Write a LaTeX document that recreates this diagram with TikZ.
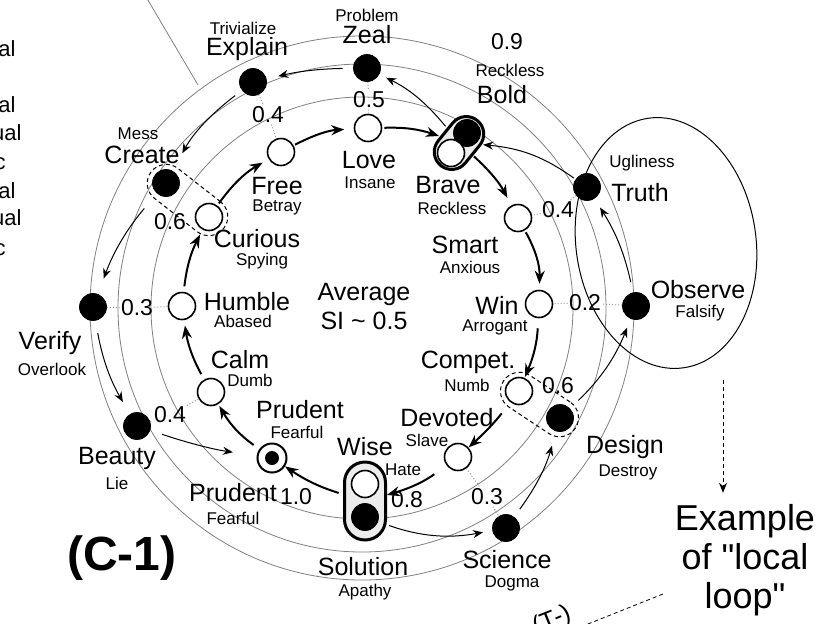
\documentclass[tikz,border=0pt]{standalone}
\usepackage{fontspec}
\setmainfont{Liberation Sans}
\usetikzlibrary{arrows.meta,shapes.geometric}

\begin{document}
\begin{tikzpicture}[x=0.5pt, y=-0.5pt, >={Stealth[length=5pt, width=4pt]},
    every node/.style={inner sep=0.5pt},
    big/.style={font=\fontsize{12.5}{14.5}\selectfont},
    sml/.style={font=\fontsize{8.5}{10}\selectfont},
    num/.style={font=\fontsize{11.5}{13}\selectfont},
    wdot/.style={circle, draw, line width=0.8pt, fill=white, minimum size=13.5pt, inner sep=0pt},
    bdot/.style={circle, draw, fill=black, minimum size=13.5pt, inner sep=0pt},
    ring/.style={gray, line width=0.4pt},
    link/.style={gray!80, densely dotted, line width=0.5pt},
    capsule/.style={draw, line width=1.5pt, fill=gray!15, inner sep=0pt},
    pairbox/.style={draw, dash pattern=on 2pt off 1.5pt, line width=0.5pt, minimum height=19pt, rounded corners=9.5pt, inner sep=0pt},
    thick arrow/.style={->, line width=1pt, >={Stealth[length=6.5pt, width=5pt]}, shorten <=2pt, shorten >=1pt},
    thin arrow/.style={->, line width=0.5pt, shorten <=5pt, shorten >=5pt}]

  \useasboundingbox (0,0) rectangle (831,623);
  \clip (0,0) rectangle (831,623);

  % rings
  \coordinate (ctr) at (362,308);
  \foreach \r in {211,244,272} \draw[ring] (ctr) circle [radius=\r];
  \coordinate (lead) at (142,-10);
  \coordinate (leadend) at (198,85);
  \draw[ring] (lead) -- (leadend);

  % local loop
  \node[ellipse, draw, line width=0.5pt, minimum width=90pt, minimum height=126pt, rotate=8, inner sep=0pt] (loop) at (666,243) {};

  % capsules and pairs
  \node[capsule, minimum width=29pt, minimum height=17.5pt, rounded corners=8.75pt, rotate=51] (bravecap) at (459,143) {};
  \node[capsule, minimum width=20.5pt, minimum height=39pt, rounded corners=10.25pt] (wisecap) at (365,501) {};
  \node[pairbox, minimum width=46pt, rotate=-38] (ccpair) at (187.5,200) {};
  \node[pairbox, minimum width=43pt, rotate=-33.5] (cdpair) at (539.5,404.5) {};

  % outer dots
  \node[bdot] (explain) at (253,82) {};
  \node[bdot] (zeal) at (367,68) {};
  \node[bdot] (bold) at (467,133) {};
  \node[bdot] (create) at (166,183) {};
  \node[bdot] (truth) at (587,187) {};
  \node[bdot] (verify) at (93,307) {};
  \node[bdot] (observe) at (636,306) {};
  \node[bdot] (beauty) at (137,426) {};
  \node[bdot] (design) at (560,418) {};
  \node[bdot] (solution) at (365,517) {};
  \node[bdot] (science) at (506,528) {};

  % inner dots
  \node[wdot] (love) at (368,128) {};
  \node[wdot] (free) at (281,152) {};
  \node[wdot] (curious) at (209,217) {};
  \node[wdot] (humble) at (182,306) {};
  \node[wdot] (calm) at (211,392) {};
  \node[wdot, line width=1pt, minimum size=14.5pt] (prudent) at (272,458) {};
  \node[circle, fill, minimum size=7pt, inner sep=0pt] (prudentdot) at (prudent) {};
  \node[wdot] (wise) at (365,484) {};
  \node[wdot] (devoted) at (458,457) {};
  \node[wdot] (compet) at (519,391) {};
  \node[wdot] (win) at (539,304) {};
  \node[wdot] (smart) at (518,218) {};
  \node[wdot] (brave) at (451,153) {};

  % values
  \node[num] (vExplain) at (268,115) {0.4};
  \node[num] (vZeal) at (369,100) {0.5};
  \node[num] (vBold) at (507,42) {0.9};
  \node[num] (vTruth) at (558,210) {0.4};
  \node[num] (vCreate) at (170,222) {0.6};
  \node[num] (vVerify) at (137,308) {0.3};
  \node[num] (vObserve) at (585,303) {0.2};
  \node[num] (vDesign) at (558,386) {0.6};
  \node[num] (vBeauty) at (170,415) {0.4};
  \node[num] (vPrudent) at (296,497) {1.0};
  \node[num] (vSolution) at (407,500) {0.8};
  \node[num] (vScience) at (487,497) {0.3};
  \draw[link] (explain) -- (vExplain) -- (free);
  \draw[link] (zeal) -- (vZeal) -- (love);
  \draw[link] (truth) -- (vTruth) -- (smart);
  \draw[link] (verify) -- (vVerify) -- (humble);
  \draw[link] (observe) -- (vObserve) -- (win);
  \draw[link] (beauty) -- (vBeauty) -- (calm);
  \draw[link] (devoted) -- (vScience) -- (science);

  % inner cycle
  \draw[thick arrow, shorten <=3.5pt] (prudent) to[bend left=12] (calm);
  \draw[thick arrow, shorten <=3pt, shorten >=2.75pt] (calm) to[bend left=10] (humble);
  \draw[thick arrow, shorten <=2.75pt, shorten >=2.75pt] (humble) to[bend left=10] (curious);
  \draw[thick arrow, shorten <=1.25pt, shorten >=3.5pt] (curious) to[bend left=12] (free);
  \draw[thick arrow, shorten <=0.75pt, shorten >=4.75pt] (free) to[bend left=12] (love);
  \draw[thick arrow, shorten <=1pt, shorten >=0.5pt] (love) to[bend left=10] (bravecap);
  \draw[thick arrow, shorten <=0.5pt, shorten >=4.25pt] (bravecap) to[bend left=10] (smart);
  \draw[thick arrow, shorten <=1pt, shorten >=3pt] (smart) to[bend left=15] (win);
  \draw[thick arrow, shorten <=5pt, shorten >=0.5pt] (win) to[bend left=10] (compet);
  \draw[thick arrow, shorten <=7pt, shorten >=0pt] (compet) to[bend left=5] (devoted);
  \draw[thick arrow, shorten <=7.5pt, shorten >=0pt] (devoted) to[bend left=10] (wisecap);
  \draw[thick arrow, shorten <=2.25pt, shorten >=0pt] (wisecap) to[bend left=8] (prudent);

  % outer cycle
  \draw[thin arrow, shorten <=5.75pt, shorten >=4.75pt] (solution) to[bend right=15] (science);
  \draw[thin arrow, shorten <=4.75pt, shorten >=7.5pt] (science) to[bend right=10] (design);
  \draw[thin arrow, shorten <=5.75pt, shorten >=4.75pt] (design) to[bend right=12] (observe);
  \draw[thin arrow, shorten <=5.25pt, shorten >=5.25pt] (observe) to[bend right=10] (truth);
  \draw[thin arrow, shorten <=1pt, shorten >=0.5pt] (truth) to[bend right=15] (bravecap);
  \draw[thin arrow, shorten <=1pt, shorten >=3.75pt] (bravecap) to[bend right=12] (zeal);
  \draw[thin arrow, shorten <=5.25pt, shorten >=6pt] (zeal) to[bend right=6] (explain);
  \draw[thin arrow, shorten <=4.25pt, shorten >=10pt] (explain) to[bend right=12] (create);
  \draw[thin arrow, shorten <=9.75pt, shorten >=8.25pt] (create) to[bend right=10] (verify);
  \draw[thin arrow, shorten <=6.25pt, shorten >=7pt] (verify) to[bend right=10] (beauty);
  \draw[thin arrow, shorten <=6.25pt, shorten >=12pt] (beauty) to[bend right=5] (prudent);

  % names
  \node[sml] (tTrivialize) at (243,28) {Trivialize};
  \node[big] (tExplain) at (247,49) {Explain};
  \node[sml] (tProblem) at (367,15) {Problem};
  \node[big] (tZeal) at (367,35) {Zeal};
  \node[sml] (tRecklessA) at (510,70) {Reckless};
  \node[big] (tBold) at (502,95) {Bold};
  \node[sml] (tMess) at (138,134) {Mess};
  \node[big] (tCreate) at (142,155) {Create};
  \node[big] (tLove) at (369,160) {Love};
  \node[sml] (tInsane) at (370,183) {Insane};
  \node[big] (tFree) at (277,186) {Free};
  \node[sml] (tBetray) at (277,207) {Betray};
  \node[big] (tBrave) at (448,185) {Brave};
  \node[sml] (tRecklessB) at (452,208) {Reckless};
  \node[sml] (tUgliness) at (642,163) {Ugliness};
  \node[big] (tTruth) at (640,193) {Truth};
  \node[big] (tCurious) at (257,239) {Curious};
  \node[sml] (tSpying) at (262,261) {Spying};
  \node[big] (tSmart) at (465,245) {Smart};
  \node[sml] (tAnxious) at (470,267) {Anxious};
  \node[font=\fontsize{12.5}{14.5}\selectfont, align=center] (tAverage) at (364,307) {Average\\SI \textasciitilde{} 0.5};
  \node[big] (tHumble) at (247,302) {Humble};
  \node[sml] (tAbased) at (243,321) {Abased};
  \node[big] (tWin) at (497,305) {Win};
  \node[sml] (tArrogant) at (495,327) {Arrogant};
  \node[big] (tObserve) at (698,290) {Observe};
  \node[sml] (tFalsify) at (700,313) {Falsify};
  \node[big] (tVerify) at (50,343) {Verify};
  \node[sml] (tOverlook) at (52,369) {Overlook};
  \node[big] (tCalm) at (240,360) {Calm};
  \node[sml] (tDumb) at (250,380) {Dumb};
  \node[big] (tCompet) at (468,362) {Compet.};
  \node[sml] (tNumb) at (467,385) {Numb};
  \node[big] (tPrudentA) at (300,410) {Prudent};
  \node[sml] (tFearfulA) at (297,432) {Fearful};
  \node[big] (tDevoted) at (447,418) {Devoted};
  \node[sml] (tSlave) at (427,440) {Slave};
  \node[big] (tWise) at (365,447) {Wise};
  \node[sml] (tHate) at (403,470) {Hate};
  \node[big] (tDesign) at (625,447) {Design};
  \node[sml] (tDestroy) at (628,472) {Destroy};
  \node[big] (tBeauty) at (117,458) {Beauty};
  \node[sml] (tLie) at (117,483) {Lie};
  \node[big] (tPrudentB) at (233,493) {Prudent};
  \node[sml] (tFearfulB) at (233,518) {Fearful};
  \node[big] (tSolution) at (363,567) {Solution};
  \node[sml] (tApathy) at (365,592) {Apathy};
  \node[big] (tScience) at (507,560) {Science};
  \node[sml] (tDogma) at (512,583) {Dogma};

  % side notes
  \node[font=\bfseries\fontsize{24}{26}\selectfont] (cone) at (122,558) {(C-1)};
  \node[font=\fontsize{18}{19.5}\selectfont, align=center] (example) at (745,560) {Example\\of \textquotedbl local\\loop\textquotedbl};
  \coordinate (loopend) at (723,380);
  \draw[->, dash pattern=on 2pt off 1.5pt, line width=0.5pt, shorten >=5pt] (loopend) -- (loopend |- example.north);
  \node[big, rotate=22] (tminus) at (552,621) {(T-)};
  \coordinate (tl1) at (663,594);
  \coordinate (tl2) at (583,626);
  \draw[dash pattern=on 2pt off 1.5pt, line width=0.4pt] (tl1) -- (tl2);

  % cut-off list at the left
  \tikzset{frag/.style={font=\fontsize{11}{13}\selectfont, anchor=east}}
  \node[frag] (fa) at (17,48.5) {al};
  \node[frag] (fb) at (17,105) {al};
  \node[frag] (fc) at (23,133) {ual};
  \node[frag] (fd) at (7,164) {c};
  \node[frag] (fe) at (17,191) {al};
  \node[frag] (ff) at (23,218) {ual};
  \node[frag] (fg) at (7,250) {c};
\end{tikzpicture}
\end{document}
